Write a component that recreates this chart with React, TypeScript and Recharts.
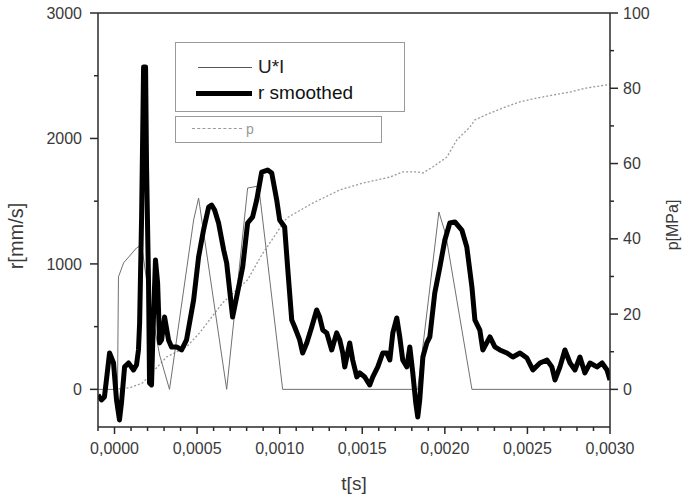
import { ComposedChart, Line, XAxis, YAxis, ReferenceLine, Label } from "recharts"

// t[s] / r[mm/s] for the thick "r smoothed" curve
const rTime = [
    -0.0001, -0.000079, -0.000061, -0.00003, -0.000006, 0.000012, 0.00003, 0.000042, 0.000061, 0.000085,
    0.000115, 0.000133, 0.000145, 0.000152, 0.000164, 0.000176, 0.000188, 0.000194, 0.000206, 0.000212,
    0.000224, 0.000236, 0.000248, 0.000261, 0.000273, 0.000285, 0.000303, 0.000327, 0.000345, 0.000376,
    0.000406, 0.000436, 0.000479, 0.000509, 0.000539, 0.00057, 0.000588, 0.000606, 0.00063, 0.000661,
    0.000679, 0.000715, 0.000776, 0.000806, 0.000836, 0.000861, 0.000891, 0.000927, 0.000952, 0.000982,
    0.001, 0.00103, 0.001048, 0.001073, 0.001091, 0.001121, 0.001139, 0.001164, 0.001194, 0.001224,
    0.001242, 0.001261, 0.001285, 0.001315, 0.001345, 0.001364, 0.001382, 0.001394, 0.001424, 0.001442,
    0.001467, 0.001485, 0.001515, 0.001545, 0.001564, 0.001594, 0.001624, 0.001648, 0.001667, 0.001685,
    0.001709, 0.001727, 0.001745, 0.00177, 0.001788, 0.001806, 0.001824, 0.001836, 0.001848, 0.001867,
    0.001891, 0.001909, 0.001939, 0.00197, 0.002, 0.00203, 0.002061, 0.002103, 0.002133, 0.002164,
    0.002182, 0.002212, 0.00223, 0.002273, 0.002303, 0.002333, 0.002376, 0.002412, 0.002455, 0.002497,
    0.002533, 0.002576, 0.002618, 0.002648, 0.002667, 0.002697, 0.002727, 0.002758, 0.002788, 0.002818,
    0.002848, 0.002879, 0.002921, 0.002952, 0.002982, 0.003,
]
const rValue = [
    -45, -84, -61, 290, 210, -84, -244, -108, 179, 210,
    155, 194, 314, 529, 1374, 2570, 2570, 1773, 848, 51,
    35, 577, 1031, 848, 370, 394, 577, 394, 338, 338,
    314, 394, 712, 1055, 1270, 1453, 1469, 1430, 1326, 1111,
    1007, 577, 975, 1326, 1374, 1510, 1732, 1748, 1724, 1510,
    1350, 1294, 975, 553, 497, 394, 290, 370, 497, 633,
    577, 473, 450, 314, 450, 394, 290, 179, 370, 234,
    99, 131, 99, 35, 99, 179, 290, 290, 234, 450,
    569, 418, 234, 179, 338, 131, -108, -220, -84, 258,
    370, 418, 768, 976, 1191, 1326, 1334, 1270, 1135, 816,
    553, 473, 314, 418, 338, 314, 290, 258, 290, 250,
    155, 210, 234, 179, 75, 179, 314, 210, 155, 258,
    131, 210, 179, 210, 155, 75,
]

// U*I (thin line), plotted on the r axis
const uiTime = [-0.0001, 0.000018, 0.000024, 0.000055, 0.000133, 0.000164, 0.000212, 0.000273, 0.000333, 0.000479,
    0.000509, 0.000679, 0.000806, 0.000873, 0.001018, 0.001836, 0.001964, 0.002006, 0.002164, 0.003]
const uiValue = [0, 0, 897, 1008, 1127, 1150, 712, 274, 0, 1350,
    1525, 0, 1605, 1621, 0, 0, 1414, 1231, 0, 0]

// p[MPa] (dotted), right axis
const pTime = [0, 0.000091, 0.00017, 0.000315, 0.000436, 0.000515, 0.000655, 0.000806, 0.000891, 0.000982,
    0.001042, 0.0012, 0.001364, 0.001503, 0.001667, 0.001745, 0.00183, 0.001867, 0.001927, 0.002012,
    0.002073, 0.002152, 0.002182, 0.002273, 0.002352, 0.002455, 0.002558, 0.002655, 0.002758, 0.00286,
    0.002982, 0.003]
const pValue = [0, 0.4, 1.7, 8.6, 11.3, 15.0, 23.0, 29.1, 35.7, 41.6,
    45.5, 49.5, 53.0, 54.8, 56.4, 57.8, 57.8, 57.5, 59.1, 61.7,
    66.3, 69.7, 71.6, 73.4, 74.8, 76.4, 77.4, 78.2, 79.0, 80.1,
    80.9, 81.0]

const xTicks = [-0.0001, 0, 0.0001, 0.0002, 0.0003, 0.0004, 0.0005, 0.0006, 0.0007, 0.0008, 0.0009, 0.001,
    0.0011, 0.0012, 0.0013, 0.0014, 0.0015, 0.0016, 0.0017, 0.0018, 0.0019, 0.002, 0.0021, 0.0022, 0.0023,
    0.0024, 0.0025, 0.0026, 0.0027, 0.0028, 0.0029, 0.003]
const rTicks = [0, 500, 1000, 1500, 2000, 2500, 3000]
const pTicks = [0, 10, 20, 30, 40, 50, 60, 70, 80, 90, 100]

const rData = rTime.map((t, i) => ({ t, r: rValue[i] }))
const uiData = uiTime.map((t, i) => ({ t, ui: uiValue[i] }))
const pData = pTime.map((t, i) => ({ t, p: pValue[i] }))

const FONT = '"Liberation Sans", Arial, sans-serif'
const AXIS = '#2a2a2a'
const TXT = '#3a3a3a'
const TS = 8   // tickSize
const TM = 8   // tickMargin

const BottomTick = (props: any) => {
    const { x, y, payload } = props
    const v = payload.value
    const major = Math.abs(Math.round(v * 10000)) % 5 === 0
    const ay = y - TM - TS
    return (
        <g>
            <line x1={x} x2={x} y1={ay} y2={ay + (major ? 7 : 4)} stroke={AXIS} strokeWidth={1.5} />
            {major && v >= 0 && (
                <text x={x} y={y} dy="0.71em" textAnchor="middle" fontSize={16} fontFamily={FONT} fill={TXT}>
                    {v.toFixed(4).replace('.', ',')}
                </text>
            )}
        </g>
    )
}

const LeftTick = (props: any) => {
    const { x, y, payload } = props
    const v = payload.value
    const major = v % 1000 === 0
    const ax = x + TM + TS
    return (
        <g>
            <line x1={ax} x2={ax - (major ? 8 : 4)} y1={y} y2={y} stroke={AXIS} strokeWidth={1.5} />
            {major && (
                <text x={x} y={y} dy="0.35em" textAnchor="end" fontSize={16} fontFamily={FONT} fill={TXT}>{v}</text>
            )}
        </g>
    )
}

const RightTick = (props: any) => {
    const { x, y, payload } = props
    const v = payload.value
    const major = v % 20 === 0
    const ax = x - 5 - TS
    return (
        <g>
            <line x1={ax} x2={ax + (major ? 8 : 4)} y1={y} y2={y} stroke={AXIS} strokeWidth={1.5} />
            {major && (
                <text x={x} y={y} dy="0.35em" textAnchor="start" fontSize={16} fontFamily={FONT} fill={TXT}>{v}</text>
            )}
        </g>
    )
}

const VTitle = ({ x, y, text, size }: { x: number; y: number; text: string; size: number }) => (
    <text x={x} y={y} transform={`rotate(-90 ${x} ${y})`} textAnchor="middle" dominantBaseline="central"
        fontSize={size} fontFamily={FONT} fill={TXT}>{text}</text>
)

const abs = (l: number, t: number, extra: any = {}) => ({ position: 'absolute' as const, left: l, top: t, ...extra })

export default function App() {
    return (
        <div style={{ position: 'absolute', left: 0, top: 0, width: 687, height: 498, background: '#fff' }}>
            <ComposedChart width={687} height={498} margin={{ top: 13, right: 0, bottom: 0, left: 0 }}>
                <XAxis dataKey="t" type="number" domain={[-0.0001, 0.003]} ticks={xTicks} interval={0}
                    allowDataOverflow allowDuplicatedCategory={false} height={71}
                    tickSize={TS} tickMargin={TM} tickLine={false} tick={<BottomTick />}
                    axisLine={{ stroke: AXIS, strokeWidth: 1.5 }}>
                    <Label content={() => (
                        <text x={354} y={483} textAnchor="middle" dominantBaseline="central" fontSize={19}
                            fontFamily={FONT} fill={TXT}>t[s]</text>
                    )} />
                </XAxis>
                <YAxis yAxisId="r" orientation="left" type="number" domain={[-300, 3000]} ticks={rTicks}
                    interval={0} allowDataOverflow width={98} tickSize={TS} tickMargin={TM} tickLine={false}
                    tick={<LeftTick />} axisLine={{ stroke: AXIS, strokeWidth: 1.5 }}>
                    <Label content={() => <VTitle x={16} y={236} text="r[mm/s]" size={20} />} />
                </YAxis>
                <YAxis yAxisId="p" orientation="right" type="number" domain={[-10, 100]} ticks={pTicks}
                    interval={0} allowDataOverflow width={77} tickSize={TS} tickMargin={5} tickLine={false}
                    tick={<RightTick />} axisLine={{ stroke: AXIS, strokeWidth: 1.5 }}>
                    <Label content={() => <VTitle x={672} y={225} text="p[MPa]" size={16} />} />
                </YAxis>
                <ReferenceLine yAxisId="r" y={3000} stroke={AXIS} strokeWidth={1.5} />
                <Line yAxisId="p" data={pData} dataKey="p" type="linear" dot={false} stroke="#9a9a9a"
                    strokeWidth={1.3} strokeDasharray="2 2" isAnimationActive={false} />
                <Line yAxisId="r" data={uiData} dataKey="ui" type="linear" dot={false} stroke="#707070"
                    strokeWidth={1} isAnimationActive={false} />
                <Line yAxisId="r" data={rData} dataKey="r" type="linear" dot={false} stroke="#000"
                    strokeWidth={5} strokeLinejoin="round" isAnimationActive={false} />
            </ComposedChart>

            {/* legend */}
            <div style={abs(175, 42, { width: 230, height: 70, border: '1.5px solid #9a9a9a', boxSizing: 'border-box', background: '#fff' })} />
            <div style={abs(198, 67, { width: 54, height: 1, background: '#555' })} />
            <div style={abs(258, 56, { fontSize: 19, lineHeight: '22px', fontFamily: FONT, color: '#222' })}>U*I</div>
            <div style={abs(196, 91, { width: 56, height: 5, background: '#000' })} />
            <div style={abs(258, 82, { fontSize: 19, lineHeight: '22px', fontFamily: FONT, color: '#111' })}>r smoothed</div>
            <div style={abs(175, 116, { width: 207, height: 27, border: '1.5px solid #9a9a9a', boxSizing: 'border-box', background: '#fff' })} />
            <div style={abs(192, 128, { width: 50, height: 0, borderTop: '1.3px dashed #9a9a9a' })} />
            <div style={abs(246, 121, { fontSize: 14, lineHeight: '16px', fontFamily: FONT, color: '#999' })}>p</div>
        </div>
    )
}
